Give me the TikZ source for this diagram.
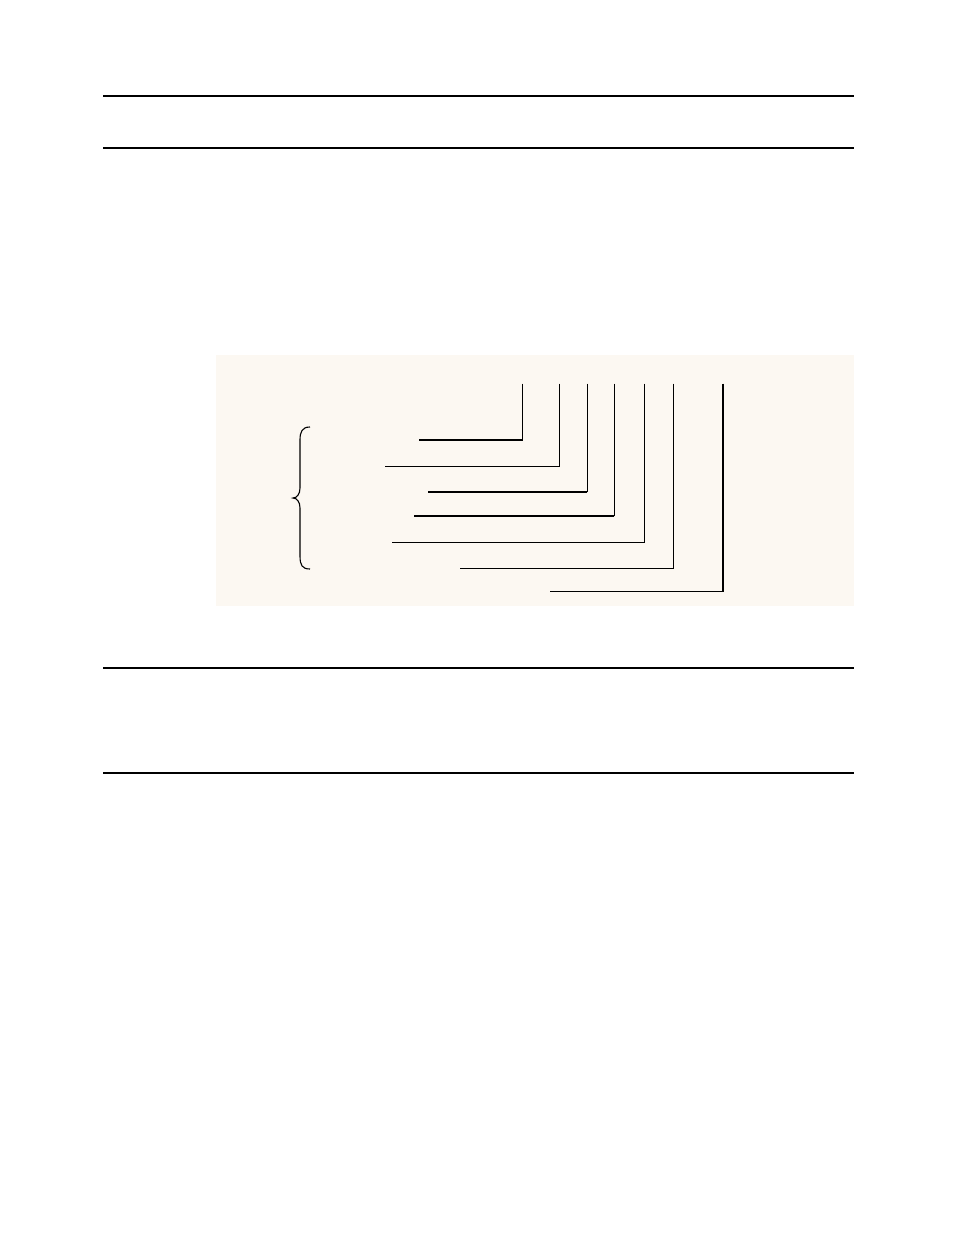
\documentclass[tikz,border=0pt]{standalone}
\definecolor{panel}{HTML}{FCF8F2}
\tikzset{
  rule/.style={line width=1.3pt, black},
  thickrule/.style={line width=2pt, black},
  leader/.style={line width=1.1pt, black},
  heavyleader/.style={line width=1.8pt, black},
  bracestyle/.style={line width=1.1pt, black}
}
\begin{document}
\begin{tikzpicture}[x=1pt,y=-1pt]
\useasboundingbox[fill=white] (0,0) rectangle (954,1235);
% rules
\draw[thickrule] (103,96) -- (854,96);
\draw[rule] (103,148) -- (854,148);
\draw[rule] (103,668) -- (854,668);
\draw[rule] (103,773) -- (854,773);
% panel
\fill[panel] (216,355) rectangle (854,606);
% leaders: top point, corner, left end
\coordinate (t1) at (522.3,383.7); \coordinate (c1) at (522.3,440); \coordinate (l1) at (419,440);
\coordinate (t2) at (559.3,383.7); \coordinate (c2) at (559.3,466.3); \coordinate (l2) at (385,466.3);
\coordinate (t3) at (587.3,383.7); \coordinate (c3) at (587.3,491.7); \coordinate (l3) at (428,491.7);
\coordinate (t4) at (614.3,383.7); \coordinate (c4) at (614.3,516.3); \coordinate (l4) at (414,516.3);
\coordinate (t5) at (644.3,383.7); \coordinate (c5) at (644.3,542.3); \coordinate (l5) at (392,542.3);
\coordinate (t6) at (673.3,383.7); \coordinate (c6) at (673.3,568.3); \coordinate (l6) at (460,568.3);
\coordinate (t7) at (723,383.7);   \coordinate (c7) at (723,591.7);   \coordinate (l7) at (550,591.7);
\draw[leader] (t1) -- (c1) -- (l1);
\draw[leader] (t2) -- (c2) -- (l2);
\draw[leader] (t3) -- (c3);
\draw[heavyleader] (c3) -- (l3);
\draw[leader] (t4) -- (c4);
\draw[heavyleader] (c4) -- (l4);
\draw[leader] (t5) -- (c5) -- (l5);
\draw[leader] (t6) -- (c6) -- (l6);
\draw[leader] (t7) -- (c7) -- (l7);
% brace
\coordinate (btop) at (310,427);
\coordinate (btip) at (293,498);
\coordinate (bbot) at (310,569);
\draw[bracestyle] (btop) .. controls (302,427) and (300,432) .. (300,440)
  -- (300,488) .. controls (300,494) and (297,498) .. (btip)
  .. controls (297,498) and (300,502) .. (300,508)
  -- (300,556) .. controls (300,565) and (302,569) .. (bbot);
\end{tikzpicture}
\end{document}
